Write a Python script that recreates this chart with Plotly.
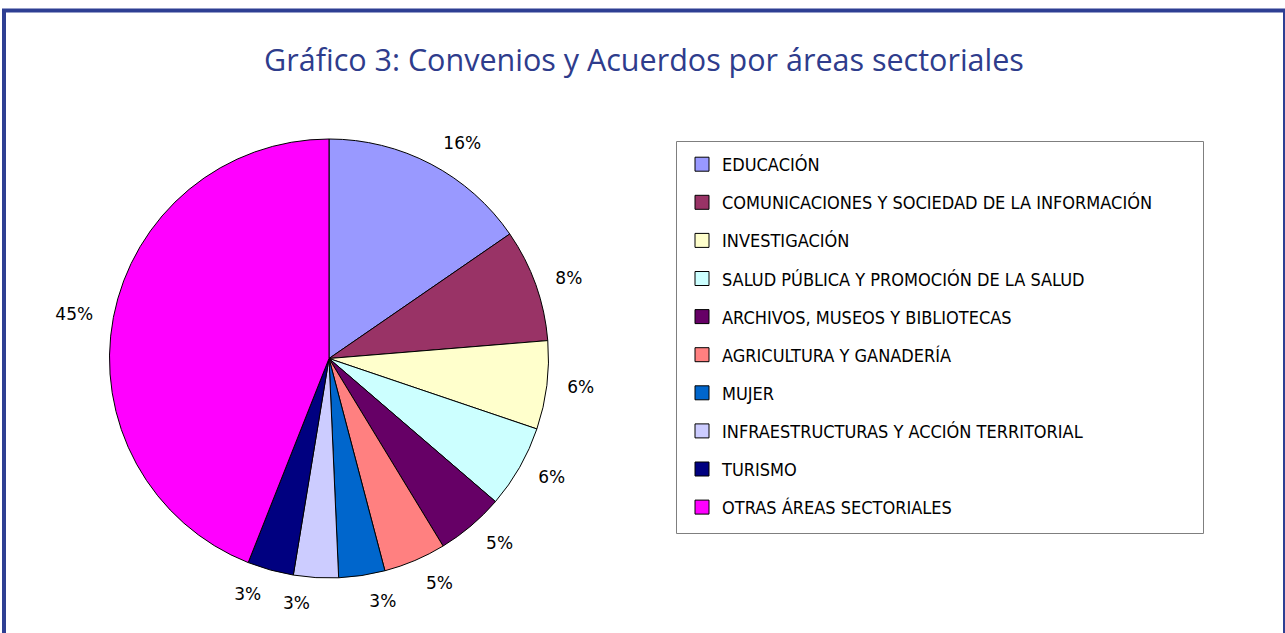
import plotly.graph_objects as go

W, H = 1285, 633

categories = [
    "EDUCACIÓN",
    "COMUNICACIONES Y SOCIEDAD DE LA INFORMACIÓN",
    "INVESTIGACIÓN",
    "SALUD PÚBLICA Y PROMOCIÓN DE LA SALUD",
    "ARCHIVOS, MUSEOS Y BIBLIOTECAS",
    "AGRICULTURA Y GANADERÍA",
    "MUJER",
    "INFRAESTRUCTURAS Y ACCIÓN TERRITORIAL",
    "TURISMO",
    "OTRAS ÁREAS SECTORIALES",
]
values = [15.4, 8.3, 6.5, 6.1, 5.0, 4.6, 3.4, 3.3, 3.4, 44.0]
pct_labels = ["16%", "8%", "6%", "6%", "5%", "5%", "3%", "3%", "3%", "45%"]
colors = ["#9999FF", "#993366", "#FFFFCC", "#CCFFFF", "#660066",
          "#FF8080", "#0066CC", "#CCCCFF", "#000080", "#FF00FF"]

title_text = "Gráfico 3: Convenios y Acuerdos por áreas sectoriales"

# pie geometry (pixels)
cx, cy, r_pie, r_lab = 329, 358.5, 219.5, 235


def dom(r):
    return dict(x=[(cx - r) / W, (cx + r) / W],
                y=[1 - (cy + r) / H, 1 - (cy - r) / H])


fig = go.Figure()

# label carrier pies (transparent, slightly larger); labels split in two
# alternating sets so that neighbouring labels are not pushed apart
for parity in (0, 1):
    positions = ["outside" if i % 2 == parity else "none" for i in range(len(values))]
    fig.add_trace(go.Pie(
        labels=categories, values=values, sort=False, direction="clockwise",
        rotation=0, domain=dom(r_lab), text=pct_labels, texttemplate="%{text}",
        textposition=positions,
        textfont=dict(family="DejaVu Sans", size=17, color="#000000"),
        marker=dict(colors=["rgba(0,0,0,0)"] * len(values), line=dict(width=0)),
        showlegend=False, hoverinfo="skip",
    ))

# visible pie
fig.add_trace(go.Pie(
    labels=categories, values=values, sort=False, direction="clockwise",
    rotation=0, domain=dom(r_pie), textinfo="none",
    marker=dict(colors=colors, line=dict(color="#000000", width=1)),
    showlegend=False,
))

# legend entries
for name, c in zip(categories, colors):
    fig.add_trace(go.Scatter(
        x=[None], y=[None], mode="markers", name=name, legendgroup=name,
        marker=dict(symbol="square", size=14, color=c, line=dict(color="#000000", width=1)),
    ))

fig.update_layout(
    width=W, height=H,
    margin=dict(l=0, r=0, t=0, b=0),
    paper_bgcolor="#FFFFFF", plot_bgcolor="#FFFFFF",
    xaxis=dict(visible=False), yaxis=dict(visible=False),
    title=dict(text=title_text, x=644 / W, xanchor="center", y=1 - 60 / H, yanchor="middle",
               font=dict(family="Open Sans", size=30.5, color="#2E3C8C")),
    legend=dict(x=682 / W, y=1 - 146 / H, xanchor="left", yanchor="top",
                traceorder="grouped", tracegroupgap=11.7,
                font=dict(family="DejaVu Sans Condensed, Liberation Sans Narrow, sans-serif",
                          size=18, color="#000000"),
                bgcolor="rgba(0,0,0,0)", borderwidth=0),
    shapes=[
        dict(type="rect", xref="paper", yref="paper",
             x0=4 / W, x1=1285 / W, y0=-0.05, y1=1 - 10.5 / H,
             line=dict(color="#2E3F93", width=4), fillcolor="rgba(0,0,0,0)"),
        dict(type="rect", xref="paper", yref="paper",
             x0=676.5 / W, x1=1203.5 / W, y0=1 - 533.5 / H, y1=1 - 141.5 / H,
             line=dict(color="#7F7F7F", width=1), fillcolor="rgba(0,0,0,0)"),
    ],
)

fig.write_html(
    "out.html",
    config={"displayModeBar": False},
    post_script="document.body.style.margin='0';document.body.style.overflow='hidden';",
)
